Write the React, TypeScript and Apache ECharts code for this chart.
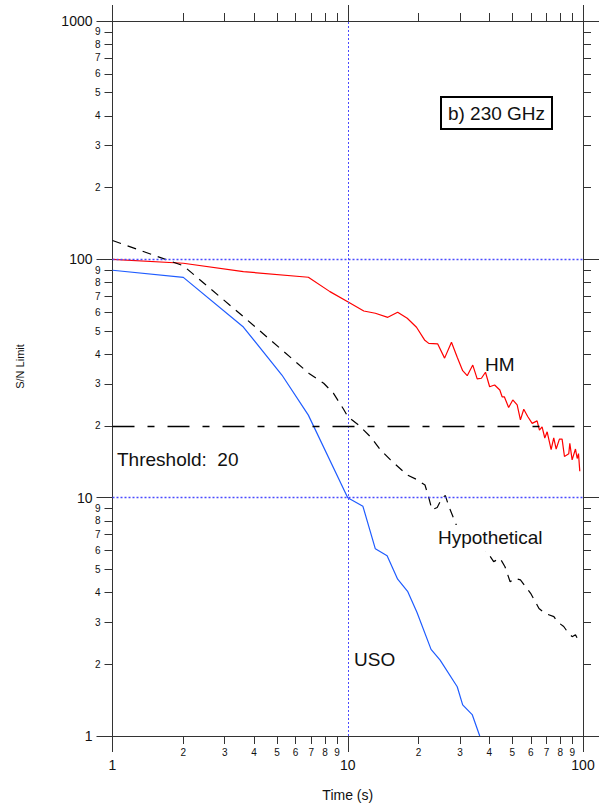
import React, { useEffect, useRef } from 'react';
import * as echarts from 'echarts';

// Time axis (s) and S/N limits of the three clock curves
const hmTime = [1, 2, 3.6, 6.8, 8.4, 10, 11.7, 13.1, 14.8, 16.3, 17.9, 19.6, 21.2, 22.1, 24.1, 25.8, 27.6, 29.2, 30.8, 32.2, 34, 35.5, 37, 38.5, 40.1, 42.1, 44.3, 45.3, 46.3, 48.3, 50.3, 52.5, 54.2, 56, 58.2, 60.8, 63.8, 65.3, 67, 68.8, 70.4, 73.2, 75.1, 76.9, 79.4, 81.5, 83.4, 87, 87.9, 89.9, 92.9, 94.5, 95.7, 96.9];
const hmSN = [100, 96.3, 88.8, 84.1, 73.2, 66.4, 60.7, 59.4, 57.1, 60.0, 56.6, 51.9, 45.9, 44.4, 44.2, 38.5, 44.9, 38.8, 34.1, 32.5, 36, 31.5, 31.7, 33.6, 29.2, 29.7, 28.3, 26.5, 26.5, 23.9, 25.7, 24.5, 21.2, 23.5, 21.9, 20.5, 21.0, 19.2, 19.8, 17.8, 18.9, 15.9, 17.8, 16.0, 17.6, 17.6, 14.9, 15.3, 16.9, 14.4, 16.0, 14.6, 15.3, 12.9];

const usoTime = [1, 2, 3.6, 5.25, 6.8, 10, 11.6, 13.1, 14.7, 16.3, 18, 19.7, 22.6, 24.7, 29.2, 30.8, 33.8, 36.4];
const usoSN = [90, 84, 52, 32.7, 22.2, 10, 9.2, 6.1, 5.7, 4.55, 4.03, 3.3, 2.31, 2.08, 1.61, 1.35, 1.23, 1.0];

const hypoTime = [1, 2, 3.6, 6.9, 7.9, 8.7, 9.6, 10, 11.1, 12.5, 13.75, 15.2, 17.9, 19.7, 21.3, 22.1, 22.8, 24, 25.2, 26, 26.9, 29.2, 39.1, 41.7, 44.4, 46.6, 49, 51.4, 54.2, 59.9, 65, 69, 75.2, 77.6, 82.8, 85.8, 89.9, 92.9, 96];
const hypoSN = [120, 94, 57.5, 33, 30.2, 27.4, 23.5, 21.9, 20.2, 18, 15.9, 14.4, 12.45, 11.9, 11.3, 10, 8.9, 9.1, 10, 10.2, 9.2, 7.5, 5.93, 5.39, 5.57, 5.13, 4.44, 4.59, 4.52, 3.97, 3.43, 3.27, 3.17, 3.02, 2.88, 2.74, 2.61, 2.66, 2.49];

// Axis ranges and tick marks (decades and their 2..9 subdivisions)
const xRange = [1, 100];
const yRange = [1, 1000];
const xMajorTicks = [1, 10, 100];
const xMinorTicks = [2, 3, 4, 5, 6, 7, 8, 9, 20, 30, 40, 50, 60, 70, 80, 90];
const yMajorTicks = [1, 10, 100, 1000];
const yMinorTicks = [2, 3, 4, 5, 6, 7, 8, 9, 20, 30, 40, 50, 60, 70, 80, 90, 200, 300, 400, 500, 600, 700, 800, 900];

const gridY = [100, 10];
const gridX = [10];
const threshold = 20;

const FONT = "'Liberation Sans', Arial, Helvetica, sans-serif";
const AXIS_COLOR = '#333';
const GRID_COLOR = '#4a4aff';

const zip = (xs: number[], ys: number[]) => xs.map((x, i) => [x, ys[i]]);

const majorLabel = (v: number) => String(Math.round(Math.pow(10, v)));
const minorLabel = (v: number) => {
  const raw = Math.pow(10, v);
  const decade = Math.pow(10, Math.floor(v + 1e-9));
  return String(Math.round(raw / decade));
};

type TickAxisOpts = {
  position: string;
  max: number;
  values: number[];
  length: number;
  showLine?: boolean;
  label?: { fontSize: number; margin: number; minor: boolean };
};

// Value axes laid over the log axes, used only for their tick marks and labels
function tickAxis(o: TickAxisOpts) {
  const positions = o.values.map((v) => Math.log10(v));
  return {
    type: 'value',
    position: o.position,
    min: 0,
    max: o.max,
    axisLine: { show: !!o.showLine, onZero: false, lineStyle: { color: AXIS_COLOR, width: 1 } },
    axisTick: {
      show: true,
      inside: false,
      length: o.length,
      customValues: positions,
      lineStyle: { color: AXIS_COLOR, width: 1 },
    },
    axisLabel: o.label
      ? {
          show: true,
          customValues: positions,
          margin: o.label.margin,
          fontSize: o.label.fontSize,
          fontFamily: FONT,
          color: '#111',
          formatter: o.label.minor ? minorLabel : majorLabel,
        }
      : { show: false },
    splitLine: { show: false },
    axisPointer: { show: false },
  };
}

export default function App() {
  const ref = useRef<HTMLDivElement>(null);

  useEffect(() => {
    if (!ref.current) return;
    const chart = echarts.init(ref.current, null, { renderer: 'svg' });

    const xMax = Math.log10(xRange[1]);
    const yMax = Math.log10(yRange[1]);

    const option = {
      animation: false,
      backgroundColor: '#fff',
      grid: { left: 112.5, right: 17, top: 21, bottom: 73, containLabel: false, outerBoundsMode: 'none' },
      xAxis: [
        {
          type: 'log',
          logBase: 10,
          min: xRange[0],
          max: xRange[1],
          position: 'bottom',
          name: 'Time (s)',
          nameLocation: 'middle',
          nameGap: 52,
          nameTextStyle: { fontSize: 14, fontFamily: FONT, color: '#111' },
          axisLine: { show: true, onZero: false, lineStyle: { color: AXIS_COLOR, width: 1 } },
          axisTick: { show: false },
          axisLabel: { show: false },
          splitLine: { show: false },
          minorTick: { show: false },
        },
        tickAxis({ position: 'bottom', max: xMax, values: xMajorTicks, length: 16, label: { fontSize: 14, margin: 22, minor: false } }),
        tickAxis({ position: 'bottom', max: xMax, values: xMinorTicks, length: 8, label: { fontSize: 10, margin: 11, minor: true } }),
        tickAxis({ position: 'top', max: xMax, values: xMajorTicks, length: 16, showLine: true }),
        tickAxis({ position: 'top', max: xMax, values: xMinorTicks, length: 8 }),
      ],
      yAxis: [
        {
          type: 'log',
          logBase: 10,
          min: yRange[0],
          max: yRange[1],
          position: 'left',
          name: 'S/N Limit',
          nameLocation: 'middle',
          nameGap: 87,
          nameTextStyle: { fontSize: 11, fontFamily: FONT, color: '#111', padding: [0, 0, 0, 24] },
          axisLine: { show: true, onZero: false, lineStyle: { color: AXIS_COLOR, width: 1 } },
          axisTick: { show: false },
          axisLabel: { show: false },
          splitLine: { show: false },
          minorTick: { show: false },
        },
        tickAxis({ position: 'left', max: yMax, values: yMajorTicks, length: 16, label: { fontSize: 14, margin: 20, minor: false } }),
        tickAxis({ position: 'left', max: yMax, values: yMinorTicks, length: 8, label: { fontSize: 10, margin: 12, minor: true } }),
        tickAxis({ position: 'right', max: yMax, values: yMajorTicks, length: 16, showLine: true }),
        tickAxis({ position: 'right', max: yMax, values: yMinorTicks, length: 8 }),
      ],
      series: [
        {
          name: 'HM',
          type: 'line',
          xAxisIndex: 0,
          yAxisIndex: 0,
          data: zip(hmTime, hmSN),
          showSymbol: false,
          symbol: 'none',
          lineStyle: { color: '#ff0000', width: 1.2 },
          z: 3,
        },
        {
          name: 'USO',
          type: 'line',
          xAxisIndex: 0,
          yAxisIndex: 0,
          data: zip(usoTime, usoSN),
          showSymbol: false,
          symbol: 'none',
          lineStyle: { color: '#1f5cff', width: 1.2 },
          z: 3,
          markLine: {
            silent: true,
            symbol: 'none',
            label: { show: false },
            animation: false,
            data: [
              ...gridY.map((v) => ({ yAxis: v, lineStyle: { color: GRID_COLOR, width: 1.3, type: [2, 2], opacity: 1 } })),
              ...gridX.map((v) => ({ xAxis: v, lineStyle: { color: GRID_COLOR, width: 1, type: [2, 2], opacity: 1 } })),
              { yAxis: threshold, lineStyle: { color: '#000', width: 1.3, type: [22, 13, 7, 13], opacity: 1 } },
            ],
          },
        },
        {
          name: 'Hypothetical',
          type: 'line',
          xAxisIndex: 0,
          yAxisIndex: 0,
          data: zip(hypoTime, hypoSN),
          showSymbol: false,
          symbol: 'none',
          lineStyle: { color: '#000', width: 1.2, type: [9, 7] },
          z: 3,
        },
      ],
      graphic: [
        {
          type: 'rect',
          z: 100,
          shape: { x: 441, y: 97, width: 111, height: 32 },
          style: { fill: '#fff', stroke: '#000', lineWidth: 2 },
        },
        {
          type: 'text',
          z: 101,
          x: 496.5,
          y: 113.5,
          style: { text: 'b) 230 GHz', fontSize: 19, fontFamily: FONT, fill: '#111', align: 'center', verticalAlign: 'middle', textAlign: 'center', textVerticalAlign: 'middle' },
        },
        {
          type: 'text',
          z: 101,
          x: 485,
          y: 364,
          style: { text: 'HM', fontSize: 19, fontFamily: FONT, fill: '#111', align: 'left', verticalAlign: 'middle', textAlign: 'left', textVerticalAlign: 'middle' },
        },
        {
          type: 'rect',
          z: 100,
          shape: { x: 437, y: 525, width: 108, height: 26 },
          style: { fill: '#fff', stroke: null },
        },
        {
          type: 'text',
          z: 101,
          x: 438,
          y: 537,
          style: { text: 'Hypothetical', fontSize: 19, fontFamily: FONT, fill: '#111', align: 'left', verticalAlign: 'middle', textAlign: 'left', textVerticalAlign: 'middle' },
        },
        {
          type: 'text',
          z: 101,
          x: 354,
          y: 659,
          style: { text: 'USO', fontSize: 19, fontFamily: FONT, fill: '#111', align: 'left', verticalAlign: 'middle', textAlign: 'left', textVerticalAlign: 'middle' },
        },
        {
          type: 'text',
          z: 101,
          x: 117,
          y: 459,
          style: { text: 'Threshold:  20', fontSize: 19, fontFamily: FONT, fill: '#111', align: 'left', verticalAlign: 'middle', textAlign: 'left', textVerticalAlign: 'middle' },
        },
      ],
    };

    chart.setOption(option as any);
    return () => chart.dispose();
  }, []);

  return <div ref={ref} style={{ position: 'fixed', left: 0, top: 0, width: 600, height: 809, background: '#fff' }} />;
}
